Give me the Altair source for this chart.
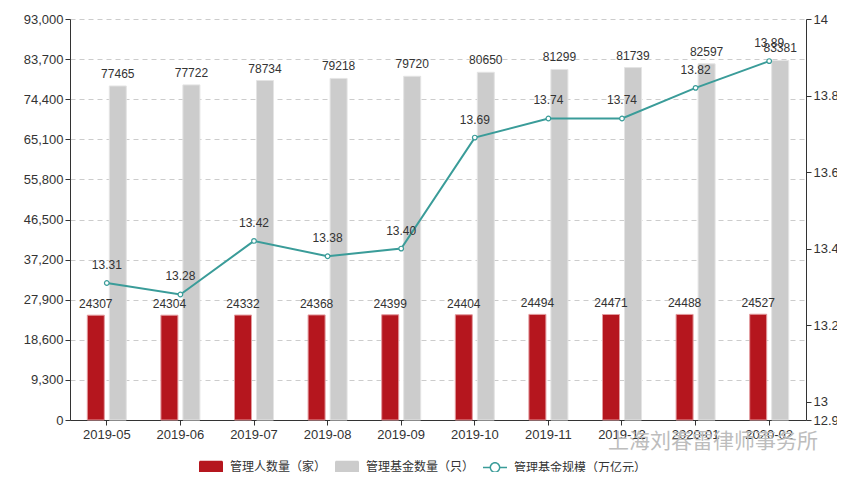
import altair as alt
import pandas as pd

months = ["2019-05", "2019-06", "2019-07", "2019-08", "2019-09",
          "2019-10", "2019-11", "2019-12", "2020-01", "2020-02"]
managers = [24307, 24304, 24332, 24368, 24399, 24404, 24494, 24471, 24488, 24527]
funds = [77465, 77722, 78734, 79218, 79720, 80650, 81299, 81739, 82597, 83381]
scale_vals = [13.31, 13.28, 13.42, 13.38, 13.40, 13.69, 13.74, 13.74, 13.82, 13.89]
series_names = ["管理人数量（家）", "管理基金数量（只）", "管理基金规模（万亿元）"]
left_ticks = [0, 9300, 18600, 27900, 37200, 46500, 55800, 65100, 74400, 83700, 93000]
right_ticks = [12.952, 13, 13.2, 13.4, 13.6, 13.8, 14]

RED = "#b5161e"
GRAY = "#cccccc"
TEAL = "#3a9c99"
TXT = "#333333"
FONT = "Liberation Sans"
CJK = "Noto Sans CJK SC"

df = pd.DataFrame({"month": months, "managers": managers,
                   "funds": funds, "scale": scale_vals})
legend_df = pd.DataFrame({"series": series_names})

x_enc = alt.X("month:N", sort=months,
              scale=alt.Scale(paddingInner=0, paddingOuter=0),
              axis=alt.Axis(title=None, labelAngle=0, labelFontSize=13,
                            labelFont=FONT, labelColor=TXT, domainColor=TXT,
                            tickColor=TXT, tickSize=5, labelPadding=3))

left_scale = alt.Scale(domain=[0, 93000], nice=False, zero=True)
left_axis = alt.Axis(title=None, values=left_ticks,
                     labelExpr="format(datum.value, ',d')", grid=True,
                     gridDash=[5, 4], gridColor="#cccccc", labelFontSize=13,
                     labelFont=FONT, labelColor=TXT, domainColor=TXT,
                     tickColor=TXT, tickSize=5)

base = alt.Chart(df)

bars_m = base.mark_bar(width=17, xOffset=-11, color=RED, stroke="#e39a9e",
                       strokeWidth=1).encode(
    x=x_enc, y=alt.Y("managers:Q", scale=left_scale, axis=left_axis))
bars_f = base.mark_bar(width=17, xOffset=11, color=GRAY, stroke="#e4e4e4",
                       strokeWidth=1).encode(
    x=x_enc, y=alt.Y("funds:Q", scale=left_scale, axis=left_axis))
text_m = base.mark_text(dx=-11, dy=-4, baseline="bottom", fontSize=12,
                        font=FONT, color=TXT).encode(
    x=x_enc, y=alt.Y("managers:Q", scale=left_scale, axis=left_axis),
    text=alt.Text("managers:Q", format="d"))
text_f = base.mark_text(dx=11, dy=-5, baseline="bottom", fontSize=12,
                        font=FONT, color=TXT).encode(
    x=x_enc, y=alt.Y("funds:Q", scale=left_scale, axis=left_axis),
    text=alt.Text("funds:Q", format="d"))

bar_group = alt.layer(bars_m, bars_f, text_m, text_f)

right_scale = alt.Scale(domain=[12.952, 14], nice=False, zero=False)
right_axis = alt.Axis(title=None, orient="right", values=right_ticks,
                      labelExpr="'' + datum.value", grid=False,
                      labelFontSize=13, labelFont=FONT, labelColor=TXT,
                      domainColor=TXT, tickColor=TXT, tickSize=5)

line = base.mark_line(color=TEAL, strokeWidth=2).encode(
    x=x_enc, y=alt.Y("scale:Q", scale=right_scale, axis=right_axis))
pts = base.mark_point(shape="circle", filled=True, fill="white", stroke=TEAL,
                      strokeWidth=1.2, size=22, opacity=1).encode(
    x=x_enc, y=alt.Y("scale:Q", scale=right_scale, axis=right_axis))
text_s = base.mark_text(dy=-11, baseline="bottom", fontSize=12, font=FONT,
                        color=TXT).encode(
    x=x_enc, y=alt.Y("scale:Q", scale=right_scale, axis=right_axis),
    text=alt.Text("scale:Q", format=".2f"))

rect_path = ("M-0.88,-0.54 H0.88 A0.12,0.12 0 0 1 1,-0.42 V0.42 "
             "A0.12,0.12 0 0 1 0.88,0.54 H-0.88 A0.12,0.12 0 0 1 -1,0.42 "
             "V-0.42 A0.12,0.12 0 0 1 -0.88,-0.54 Z")
line_path = ("M0.45,0 A0.45,0.45 0 1 1 -0.45,0 A0.45,0.45 0 1 1 0.45,0 Z "
             "M0.33,0 A0.33,0.33 0 1 0 -0.33,0 A0.33,0.33 0 1 0 0.33,0 Z "
             "M-1,-0.07 H-0.44 V0.07 H-1 Z M0.44,-0.07 H1 V0.07 H0.44 Z")

legend = alt.Legend(title=None, orient="none", legendX=129, legendY=436,
                    direction="horizontal", symbolSize=576,
                    labelFontSize=12, labelFont=CJK, labelColor=TXT,
                    labelOffset=7, columnPadding=8, symbolOpacity=1,
                    symbolStrokeWidth=0, padding=0)

legend_layer = alt.Chart(legend_df).mark_point(filled=True, opacity=0).encode(
    color=alt.Color("series:N", sort=series_names,
                    scale=alt.Scale(domain=series_names,
                                    range=[RED, GRAY, TEAL]),
                    legend=legend),
    shape=alt.Shape("series:N", sort=series_names,
                    scale=alt.Scale(domain=series_names,
                                    range=[rect_path, rect_path, line_path]),
                    legend=legend),
)

line_group = alt.layer(line, pts, text_s, legend_layer)

chart = alt.layer(bar_group, line_group).resolve_scale(
    y="independent"
).properties(
    width=736, height=401,
    autosize=alt.AutoSizeParams(type="none"),
    padding={"left": 62, "top": 11, "right": 31, "bottom": 52},
    title=alt.TitleParams(text="上海刘春雷律师事务所", orient="bottom",
                          anchor="end", frame="group", fontSize=21, font=CJK,
                          fontWeight="normal", color="#bdbdbd", offset=-43,
                          dx=12),
).configure_view(stroke=None)

chart.save("out.html", embed_options={"renderer": "svg", "actions": False})
